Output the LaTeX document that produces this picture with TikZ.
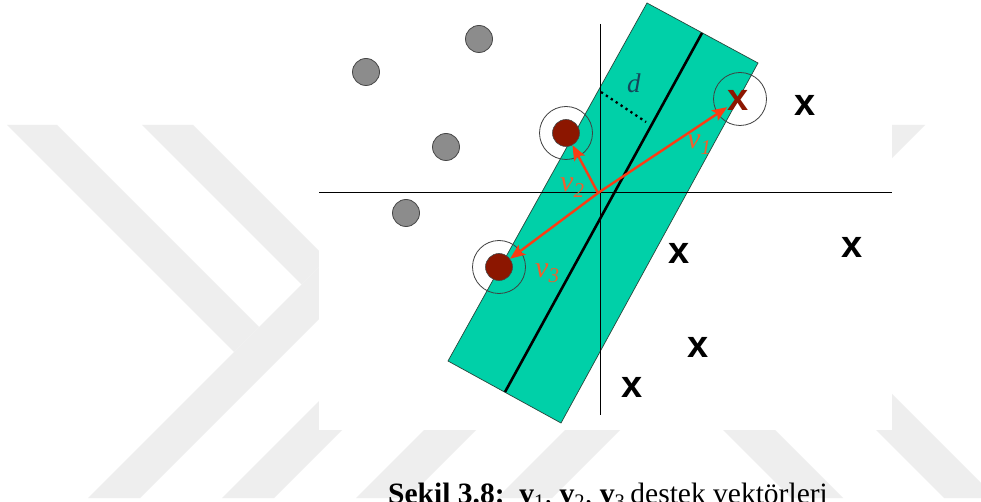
\documentclass[tikz,border=0pt]{standalone}
\usepackage{fontspec}
\setmainfont{Liberation Serif}
\newfontfamily\xsans{Liberation Sans}
\usetikzlibrary{arrows.meta}
\definecolor{wm}{RGB}{238,238,238}
\definecolor{bandcol}{RGB}{0,208,168}
\definecolor{bandedge}{RGB}{40,70,60}
\definecolor{negfill}{RGB}{140,140,140}
\definecolor{negedge}{RGB}{70,70,70}
\definecolor{svred}{RGB}{140,22,0}
\definecolor{vecred}{RGB}{250,60,20}
\definecolor{labred}{RGB}{240,95,45}
\definecolor{dcol}{RGB}{20,70,90}
\tikzset{
  negpt/.style={circle, minimum size=27pt, inner sep=0pt, fill=negfill, draw=negedge, line width=0.8pt},
  svdot/.style={circle, minimum size=27pt, inner sep=0pt, fill=svred, draw=negedge, line width=0.6pt},
  svring/.style={circle, minimum size=53pt, inner sep=0pt, draw=black!75, line width=0.8pt},
  posx/.style={inner sep=0pt, font=\xsans\bfseries\fontsize{38}{38}\selectfont},
  vec/.style={draw=vecred, line width=2.4pt, -{Stealth[length=15pt,width=12pt,inset=3pt]}},
  vlab/.style={anchor=base west, inner sep=0pt, text=labred, font=\fontsize{30}{30}\selectfont\itshape},
  axis/.style={draw=black, line width=1pt},
}
\begin{document}
\begin{tikzpicture}[x=1pt,y=-1pt]
\useasboundingbox (0,0) rectangle (981,502);
\fill[white] (0,0) rectangle (981,502);
% watermark
\begin{scope}
\clip (0,125) rectangle (981,498);
\fill[wm] (7,125) -- (57,125) -- (259,327) -- (234,352) -- cycle;
\fill[wm] (142,125) -- (193,125) -- (327,259) -- (301.5,284.5) -- cycle;
\fill[wm] (461,125) -- (513,125) -- (140,498) -- (88,498) -- cycle;
\fill[wm] (595,125) -- (647,125) -- (274,498) -- (222,498) -- cycle;
\fill[wm] (729,125) -- (781,125) -- (408,498) -- (356,498) -- cycle;
\fill[wm] (870,125) -- (925,125) -- (552,498) -- (497,498) -- cycle;
\fill[wm] (418,125) -- (470,125) -- (843,498) -- (791,498) -- cycle;
\fill[wm] (571,125) -- (623,125) -- (996,498) -- (944,498) -- cycle;
\end{scope}
% figure area
\fill[white] (319,0) rectangle (892,430);
% margin band
\filldraw[fill=bandcol, draw=bandedge, line width=0.7pt] (647,3) -- (758,63) -- (561,423) -- (448,361) -- cycle;
% axes
\draw[axis] (319,193) -- (892,193);
\draw[axis] (600,24) -- (600,415);
% separating line
\draw[line width=2.6pt] (702,33) -- (505,392);
% margin d
\draw[line width=2.3pt, dash pattern=on 2.3pt off 3.6pt] (601,92) -- (646,122);
\node[anchor=base west, inner sep=0pt, text=dcol, font=\fontsize{27}{27}\selectfont\itshape] (dl) at (627,93) {d};
% negative points
\node[negpt] (n1) at (479,39) {};
\node[negpt] (n2) at (366,72) {};
\node[negpt] (n3) at (446,147) {};
\node[negpt] (n4) at (406,213) {};
% support vectors
\node[svring] (r2) at (566,133) {};
\node[svring] (r3) at (499,267) {};
\node[svring] (r1) at (740,99) {};
\node[svdot] (sv2) at (566,133) {};
\node[svdot] (sv3) at (499,267) {};
\node[posx, text=svred] (sv1) at (738,100) {x};
% positive points
\node[posx] (p1) at (805,105) {x};
\node[posx] (p2) at (679,253) {x};
\node[posx] (p3) at (852,247) {x};
\node[posx] (p4) at (698,347) {x};
\node[posx] (p5) at (632,387) {x};
% vectors
\coordinate (O) at (598,193);
\draw[vec] (O) -- (sv1);
\draw[vec] (O) -- (sv2);
\draw[vec] (O) -- (sv3);
\node[vlab] (l1) at (687,149) {v\textsubscript{1}};
\node[vlab] (l2) at (560,192) {v\textsubscript{2}};
\node[vlab] (l3) at (535,277) {v\textsubscript{3}};
% caption
\node[anchor=base west, inner sep=0pt, font=\fontsize{29.5}{29.5}\selectfont] (cap) at (388,503)
  {\textbf{Şekil 3.8:}\ \ \textbf{v}\textsubscript{1}, \textbf{v}\textsubscript{2}, \textbf{v}\textsubscript{3}\,destek vektörleri};
\end{tikzpicture}
\end{document}
